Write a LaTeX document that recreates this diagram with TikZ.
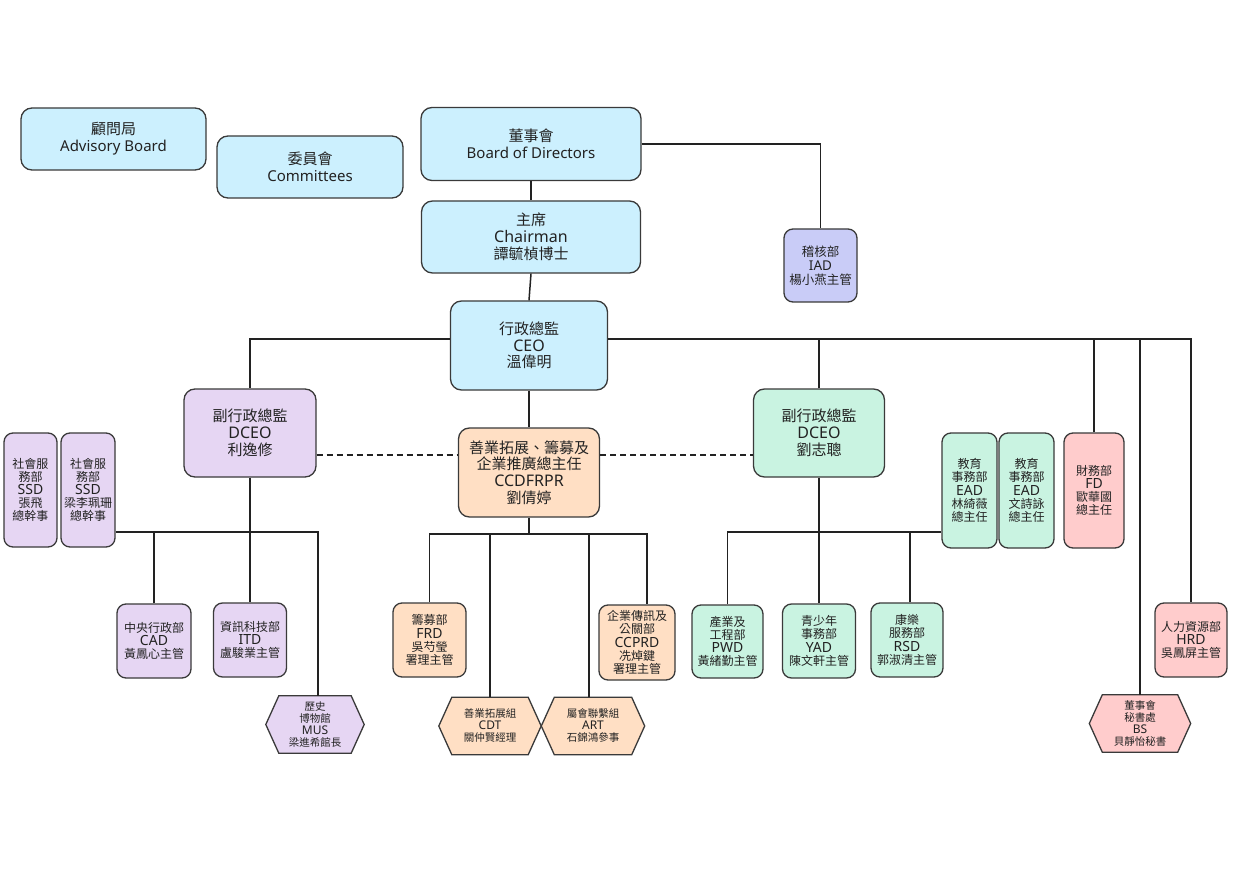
\documentclass[tikz,border=0pt]{standalone}
\usepackage{fontspec}
\setmainfont{Noto Sans}
\newfontfamily\cjkfont{Noto Sans CJK TC}
\newcommand{\zh}[1]{{\cjkfont #1}}
\usetikzlibrary{calc}
\pgfdeclarelayer{bg}
\pgfsetlayers{bg,main}
\definecolor{cblue}{HTML}{CCF0FE}
\definecolor{clav}{HTML}{C9CCF7}
\definecolor{cpur}{HTML}{E6D6F3}
\definecolor{cpeach}{HTML}{FFDFC4}
\definecolor{cmint}{HTML}{C9F3E1}
\definecolor{cpink}{HTML}{FFCCCC}
\definecolor{cedge}{HTML}{3A3A3A}
\definecolor{cline}{HTML}{222222}
\definecolor{ctext}{HTML}{222222}
\tikzset{
  bx/.style={draw=cedge, line width=1.3pt, rounded corners=11pt, align=center, inner sep=0pt, text=ctext},
  bigbox/.style={bx, font=\fontsize{15}{16.8}\selectfont},
  smallbox/.style={bx, rounded corners=9pt, font=\fontsize{12}{13.2}\selectfont},
  hexbox/.style={align=center, inner sep=0pt, text=ctext, minimum width=75pt, minimum height=57pt, font=\fontsize{10.5}{12}\selectfont},
  conn/.style={draw=cline, line width=1.5pt},
  dashconn/.style={conn, dash pattern=on 6pt off 4pt},
}
\newcommand{\bigL}[1]{{\fontsize{16}{16.8}\selectfont #1}}
\newcommand{\smL}[1]{{\fontsize{14}{13.2}\selectfont #1}}
\newcommand{\hxL}[1]{{\fontsize{12}{12}\selectfont #1}}
\newcommand{\hexfill}[2]{%
  \begin{pgfonlayer}{bg}
  \draw[draw=cedge, line width=1.3pt, fill=#2, line join=miter]
    (#1.north west) -- (#1.north east) -- ([xshift=13pt]#1.east) --
    (#1.south east) -- (#1.south west) -- ([xshift=-13pt]#1.west) -- cycle;
  \end{pgfonlayer}}
\begin{document}
\begin{tikzpicture}[x=1pt,y=-1pt]
\begin{pgfonlayer}{bg}
\fill[white] (0,0) rectangle (1240,877);
\end{pgfonlayer}
\useasboundingbox (0,0) rectangle (1240,877);

% top row
\node[bigbox, fill=cblue, minimum width=185pt, minimum height=62pt] (adv) at (113.5,139) {\zh{顧問局}\\Advisory Board};
\node[bigbox, fill=cblue, minimum width=186pt, minimum height=62pt] (com) at (310,167) {\zh{委員會}\\Committees};
\node[bigbox, fill=cblue, minimum width=220pt, minimum height=73pt] (board) at (531,144) {\zh{董事會}\\Board of Directors};
\node[bigbox, fill=cblue, minimum width=219pt, minimum height=72pt] (chair) at (531,237) {\zh{主席}\\\bigL{Chairman}\\\zh{譚毓楨博士}};
\node[bigbox, fill=cblue, minimum width=157pt, minimum height=89pt] (ceo) at (529,345.5) {\zh{行政總監}\\\bigL{CEO}\\\zh{溫偉明}};
\node[smallbox, fill=clav, minimum width=73pt, minimum height=73pt, font=\fontsize{12.5}{14}\selectfont] (iad) at (820.5,265.5) {\zh{稽核部}\\{\fontsize{13.5}{14}\selectfont IAD}\\\zh{楊小燕主管}};

% second level
\node[bigbox, fill=cpur, minimum width=132pt, minimum height=88pt] (dl) at (250,433) {\zh{副行政總監}\\\bigL{DCEO}\\\zh{利逸修}};
\node[bigbox, fill=cmint, minimum width=131pt, minimum height=88pt] (dr) at (819,433) {\zh{副行政總監}\\\bigL{DCEO}\\\zh{劉志聰}};
\node[bigbox, fill=cpeach, minimum width=141pt, minimum height=89pt] (cc) at (529,472.5) {\zh{善業拓展、籌募及}\\\zh{企業推廣總主任}\\\bigL{CCDFRPR}\\\zh{劉倩婷}};

% left cluster
\node[smallbox, fill=cpur, minimum width=53pt, minimum height=114pt] (ssda) at (30.5,490) {\zh{社會服}\\\zh{務部}\\\smL{SSD}\\\zh{張飛}\\\zh{總幹事}};
\node[smallbox, fill=cpur, minimum width=54pt, minimum height=114pt] (ssdb) at (88,490) {\zh{社會服}\\\zh{務部}\\\smL{SSD}\\\zh{梁李珮珊}\\\zh{總幹事}};
\node[smallbox, fill=cpur, minimum width=74pt, minimum height=74pt] (cad) at (154,641) {\zh{中央行政部}\\\smL{CAD}\\\zh{黃鳳心主管}};
\node[smallbox, fill=cpur, minimum width=73pt, minimum height=74pt] (itd) at (250,640) {\zh{資訊科技部}\\\smL{ITD}\\\zh{盧駿業主管}};
\node[hexbox, minimum width=72pt] (mus) at (315,724.5) {\zh{歷史}\\\zh{博物館}\\\hxL{MUS}\\\zh{梁進希館長}};
\hexfill{mus}{cpur}

% centre cluster
\node[smallbox, fill=cpeach, minimum width=73pt, minimum height=74pt] (frd) at (429.5,640) {\zh{籌募部}\\\smL{FRD}\\\zh{吳芍瑩}\\\zh{署理主管}};
\node[smallbox, fill=cpeach, minimum width=76pt, minimum height=75pt] (ccprd) at (637,642.5) {\zh{企業傳訊及}\\\zh{公關部}\\\smL{CCPRD}\\\zh{冼焯鍵}\\\zh{署理主管}};
\node[hexbox, minimum width=76pt] (cdt) at (490,726) {\zh{善業拓展組}\\\hxL{CDT}\\\zh{關仲賢經理}};
\hexfill{cdt}{cpeach}
\node[hexbox, minimum width=77pt] (art) at (593,726) {\zh{屬會聯繫組}\\\hxL{ART}\\\zh{石錦鴻參事}};
\hexfill{art}{cpeach}

% right cluster
\node[smallbox, fill=cmint, minimum width=71pt, minimum height=73pt] (pwd) at (727.5,641.5) {\zh{產業及}\\\zh{工程部}\\\smL{PWD}\\\zh{黃緒勤主管}};
\node[smallbox, fill=cmint, minimum width=73pt, minimum height=74pt] (yad) at (819,641) {\zh{青少年}\\\zh{事務部}\\\smL{YAD}\\\zh{陳文軒主管}};
\node[smallbox, fill=cmint, minimum width=72pt, minimum height=74pt] (rsd) at (907,640) {\zh{康樂}\\\zh{服務部}\\\smL{RSD}\\\zh{郭淑清主管}};
\node[smallbox, fill=cmint, minimum width=55pt, minimum height=115pt] (eada) at (969.5,490.5) {\zh{教育}\\\zh{事務部}\\\smL{EAD}\\\zh{林綺薇}\\\zh{總主任}};
\node[smallbox, fill=cmint, minimum width=55pt, minimum height=115pt] (eadb) at (1026.5,490.5) {\zh{教育}\\\zh{事務部}\\\smL{EAD}\\\zh{文詩詠}\\\zh{總主任}};
\node[smallbox, fill=cpink, minimum width=60pt, minimum height=115pt] (fd) at (1094,490.5) {\zh{財務部}\\\smL{FD}\\\zh{歐華國}\\\zh{總主任}};
\node[smallbox, fill=cpink, minimum width=72pt, minimum height=74pt] (hrd) at (1191,640) {\zh{人力資源部}\\\smL{HRD}\\\zh{吳鳳屏主管}};
\node[hexbox, minimum width=75pt] (bs) at (1140,723.5) {\zh{董事會}\\\zh{秘書處}\\\hxL{BS}\\\zh{貝靜怡秘書}};
\hexfill{bs}{cpink}

% connectors: top
\draw[conn] (board.south) -- (chair.north);
\draw[conn] (chair.south) -- (ceo.north);
\draw[conn] (board.east) -| (iad.north);
\draw[conn] (ceo.south) -- (cc.north);

% CEO bus
\coordinate (cbl) at ([yshift=6.5pt]ceo.west);
\coordinate (cbr) at ([yshift=6.5pt]ceo.east);
\draw[conn] (cbl) -| (dl.north);
\draw[conn] (cbr) -| (hrd.north);
\draw[conn] (dr.north) -- (dr.north |- cbr);
\draw[conn] (fd.north) -- (fd.north |- cbr);
\draw[conn] (bs.north) -- (bs.north |- cbr);

% dashed links
\coordinate (dashl) at ([yshift=17.5pt]cc.west);
\coordinate (dashr) at ([yshift=17.5pt]cc.east);
\draw[dashconn] (dl.east |- dashl) -- (dashl);
\draw[dashconn] (dashr) -- (dr.west |- dashr);

% left bus
\coordinate (lbus) at (250,532);
\draw[conn] (dl.south) -- (itd.north);
\draw[conn] (ssdb.east |- lbus) -| ([xshift=3pt]mus.north);
\draw[conn] (cad.north) -- (cad.north |- lbus);

% centre bus
\coordinate (mbus) at (529,534);
\draw[conn] (cc.south) -- (mbus);
\draw[conn] (frd.north) |- (mbus) -| ([xshift=10pt]ccprd.north);
\draw[conn] (cdt.north) -- (cdt.north |- mbus);
\draw[conn] ([xshift=-4pt]art.north) -- ([xshift=-4pt]art.north |- mbus);

% right bus
\coordinate (rbus) at (819,532);
\draw[conn] (dr.south) -- (yad.north);
\draw[conn] (pwd.north) |- (eada.west |- rbus);
\draw[conn] ([xshift=3pt]rsd.north) -- ([xshift=3pt]rsd.north |- rbus);
\end{tikzpicture}
\end{document}
